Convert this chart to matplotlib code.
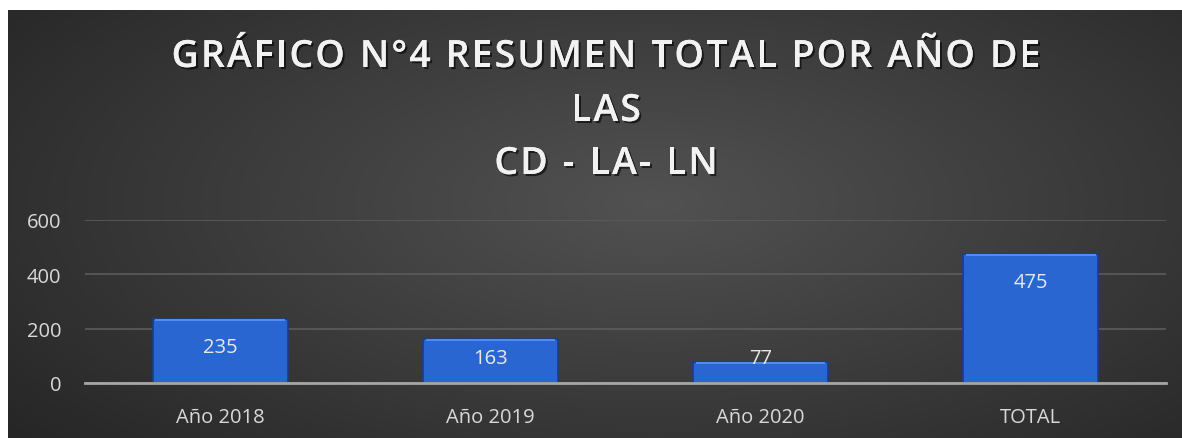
import numpy as np
import matplotlib.pyplot as plt
import matplotlib.patheffects as pe

categorias = ['Año 2018', 'Año 2019', 'Año 2020', 'TOTAL']
valores = [235, 163, 77, 475]
ticks_y = [0, 200, 400, 600]
titulo = ['GRÁFICO N°4 RESUMEN TOTAL POR AÑO DE', 'LAS', 'CD - LA- LN']

plt.rcParams['font.family'] = ['Open Sans', 'DejaVu Sans']

W, H = 1182, 439
fig = plt.figure(figsize=(W / 100, H / 100), dpi=100)
fig.patch.set_facecolor('white')

# dark panel with a soft radial gradient
bg = fig.add_axes([8 / W, 0, 1 - 8 / W, 1 - 11 / H])
bg.axis('off')
yy, xx = np.mgrid[0:1:300j, 0:1:800j]
r = np.sqrt(((xx - 0.55) / 0.75) ** 2 + ((yy - 0.45) / 0.9) ** 2)
shade = np.clip(0.32 - 0.18 * r, 0.15, 0.32)
bg.imshow(np.dstack([shade] * 3), aspect='auto', extent=[0, 1, 0, 1],
          interpolation='bilinear')
bg.set_xlim(0, 1)
bg.set_ylim(0, 1)

# title drawn letter by letter to get the wide tracking
renderer = fig.canvas.get_renderer()
sombra = [pe.withSimplePatchShadow(offset=(1.5, -1.5), shadow_rgbFace='black', alpha=0.6), pe.Normal()]
estilo = dict(color='#f2f2f2', fontsize=27, fontweight='semibold', va='center', ha='left')
tracking = 2.1
centro_x = 606
for linea, yc in zip(titulo, [58, 112, 165]):
    anchos = []
    for ch in linea:
        t = fig.text(0, 0, ch if ch != ' ' else 'n', **estilo)
        w = t.get_window_extent(renderer).width
        if ch == ' ':
            w *= 0.45
        anchos.append(w)
        t.remove()
    total = sum(anchos) + tracking * (len(linea) - 1)
    x0 = centro_x - total / 2
    for ch, w in zip(linea, anchos):
        if ch != ' ':
            fig.text(x0 / W, 1 - yc / H, ch, path_effects=sombra, **estilo)
        x0 += w + tracking

ax = fig.add_axes([85 / W, 1 - 384 / H, (1166 - 85) / W, 163 / H])
ax.patch.set_alpha(0)
x = np.arange(len(categorias))
ax.bar(x, valores, width=0.5, color='#2a66d2', edgecolor='#163f8c', linewidth=1.2, zorder=3)
# light bevel along the top of each bar
ax.bar(x, [8] * len(valores), bottom=[v - 8 for v in valores], width=0.48,
       color='#4f8ef0', linewidth=0, zorder=4)

# value labels: inside the top of the bar, kept clear of the baseline
px_por_unidad = 163 / 600
for xi, v in zip(x, valores):
    y_lab = max(v - 28 / px_por_unidad, 25 / px_por_unidad)
    ax.text(xi, y_lab, str(v), ha='center', va='center', color='#e8e8e8',
            fontsize=14.5, zorder=5)

ax.set_xlim(-0.5, len(categorias) - 0.5)
ax.set_ylim(0, 600)
ax.set_yticks(ticks_y)
ax.set_xticks(x)
ax.set_xticklabels(categorias)
ax.tick_params(axis='both', length=0, colors='#d9d9d9', labelsize=14.5)
ax.tick_params(axis='y', pad=17)
ax.tick_params(axis='x', pad=17)
ax.yaxis.grid(True, color='#5c5c5c', linewidth=1.2, zorder=0)
for s in ['top', 'right', 'left']:
    ax.spines[s].set_visible(False)
ax.spines['bottom'].set_color('#a6a6a6')
ax.spines['bottom'].set_linewidth(2)
ax.spines['bottom'].set_zorder(6)

fig.savefig('out.png', dpi=100, facecolor=fig.get_facecolor())
